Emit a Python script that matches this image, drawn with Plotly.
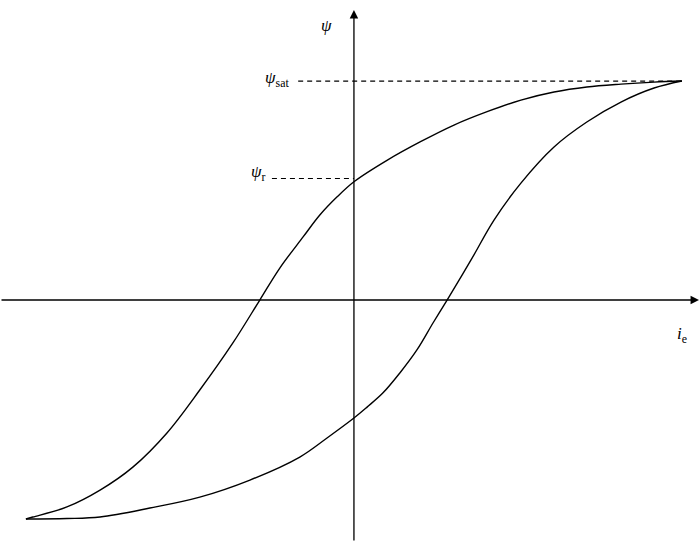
import plotly.graph_objects as go

# Hysteresis loop of a current transformer core (normalised: i / i_max, psi / psi_sat)
psi_sat = 1.0
psi_r = 0.54
i_max = 1.0

# rising branch (passes through -i_c and +psi_r)
up_i = [-1.0, -0.979, -0.875, -0.774, -0.674, -0.570, -0.470, -0.369, -0.287,
        -0.226, -0.155, -0.104, -0.052, 0.0, 0.102, 0.203, 0.305, 0.406,
        0.509, 0.610, 0.710, 0.814, 0.915, 1.0]
up_psi = [-1.0, -0.991, -0.945, -0.868, -0.763, -0.607, -0.411, -0.196, 0.0,
          0.146, 0.288, 0.388, 0.470, 0.540, 0.639, 0.723, 0.799, 0.860,
          0.913, 0.950, 0.973, 0.986, 0.995, 1.0]

# falling branch (passes through -psi_r and +i_c)
dn_i = [-1.0, -0.875, -0.774, -0.622, -0.470, -0.317, -0.165, -0.082, 0.0,
        0.040, 0.088, 0.140, 0.192, 0.241, 0.284, 0.357, 0.427, 0.509,
        0.610, 0.710, 0.814, 0.915, 1.0]
dn_psi = [-1.0, -0.998, -0.991, -0.950, -0.900, -0.822, -0.717, -0.630, -0.539,
          -0.489, -0.425, -0.333, -0.228, -0.105, 0.0, 0.183, 0.365, 0.534,
          0.699, 0.813, 0.904, 0.968, 1.0]

x_lo, x_hi = -1.079, 1.055
y_lo, y_hi = -1.105, 1.370
x_arrow_end = 1.052
y_arrow_end = 1.324

fig = go.Figure()
for xs, ys in ((up_i, up_psi), (dn_i, dn_psi)):
    fig.add_trace(go.Scatter(x=xs, y=ys, mode="lines",
                             line=dict(color="black", width=1.4, shape="spline", smoothing=1.0),
                             hoverinfo="skip", showlegend=False))

# axes with arrow heads
fig.add_annotation(x=x_arrow_end, y=0, ax=x_lo, ay=0, xref="x", yref="y", axref="x", ayref="y",
                   showarrow=True, arrowhead=2, arrowsize=1.3, arrowwidth=1.3, arrowcolor="black", text="")
fig.add_annotation(x=0, y=y_arrow_end, ax=0, ay=y_lo, xref="x", yref="y", axref="x", ayref="y",
                   showarrow=True, arrowhead=2, arrowsize=1.3, arrowwidth=1.3, arrowcolor="black", text="")

# dashed reference levels
fig.add_shape(type="line", x0=-0.17, x1=i_max, y0=psi_sat, y1=psi_sat,
              line=dict(color="black", width=1.2, dash="5px,4px"))
fig.add_shape(type="line", x0=-0.25, x1=0, y0=psi_r + 0.015, y1=psi_r + 0.015,
              line=dict(color="black", width=1.2, dash="5px,4px"))

lab_font = dict(family="Liberation Serif", size=17, color="black")
fig.add_annotation(x=-0.085, y=1.255, text="<i>ψ</i>", showarrow=False, font=lab_font)
fig.add_annotation(x=-0.235, y=psi_sat + 0.01, text="<i>ψ</i><sub>sat</sub>", showarrow=False, font=lab_font)
fig.add_annotation(x=-0.29, y=psi_r + 0.04, text="<i>ψ</i><sub>r</sub>", showarrow=False, font=lab_font)
fig.add_annotation(x=1.0, y=-0.16, text="<i>i</i><sub>e</sub>", showarrow=False, font=lab_font)

fig.update_layout(width=700, height=542, margin=dict(l=0, r=0, t=0, b=0),
                  paper_bgcolor="white", plot_bgcolor="white",
                  xaxis=dict(range=[x_lo, x_hi], visible=False, fixedrange=True),
                  yaxis=dict(range=[y_lo, y_hi], visible=False, fixedrange=True))
fig.write_html("out.html")
